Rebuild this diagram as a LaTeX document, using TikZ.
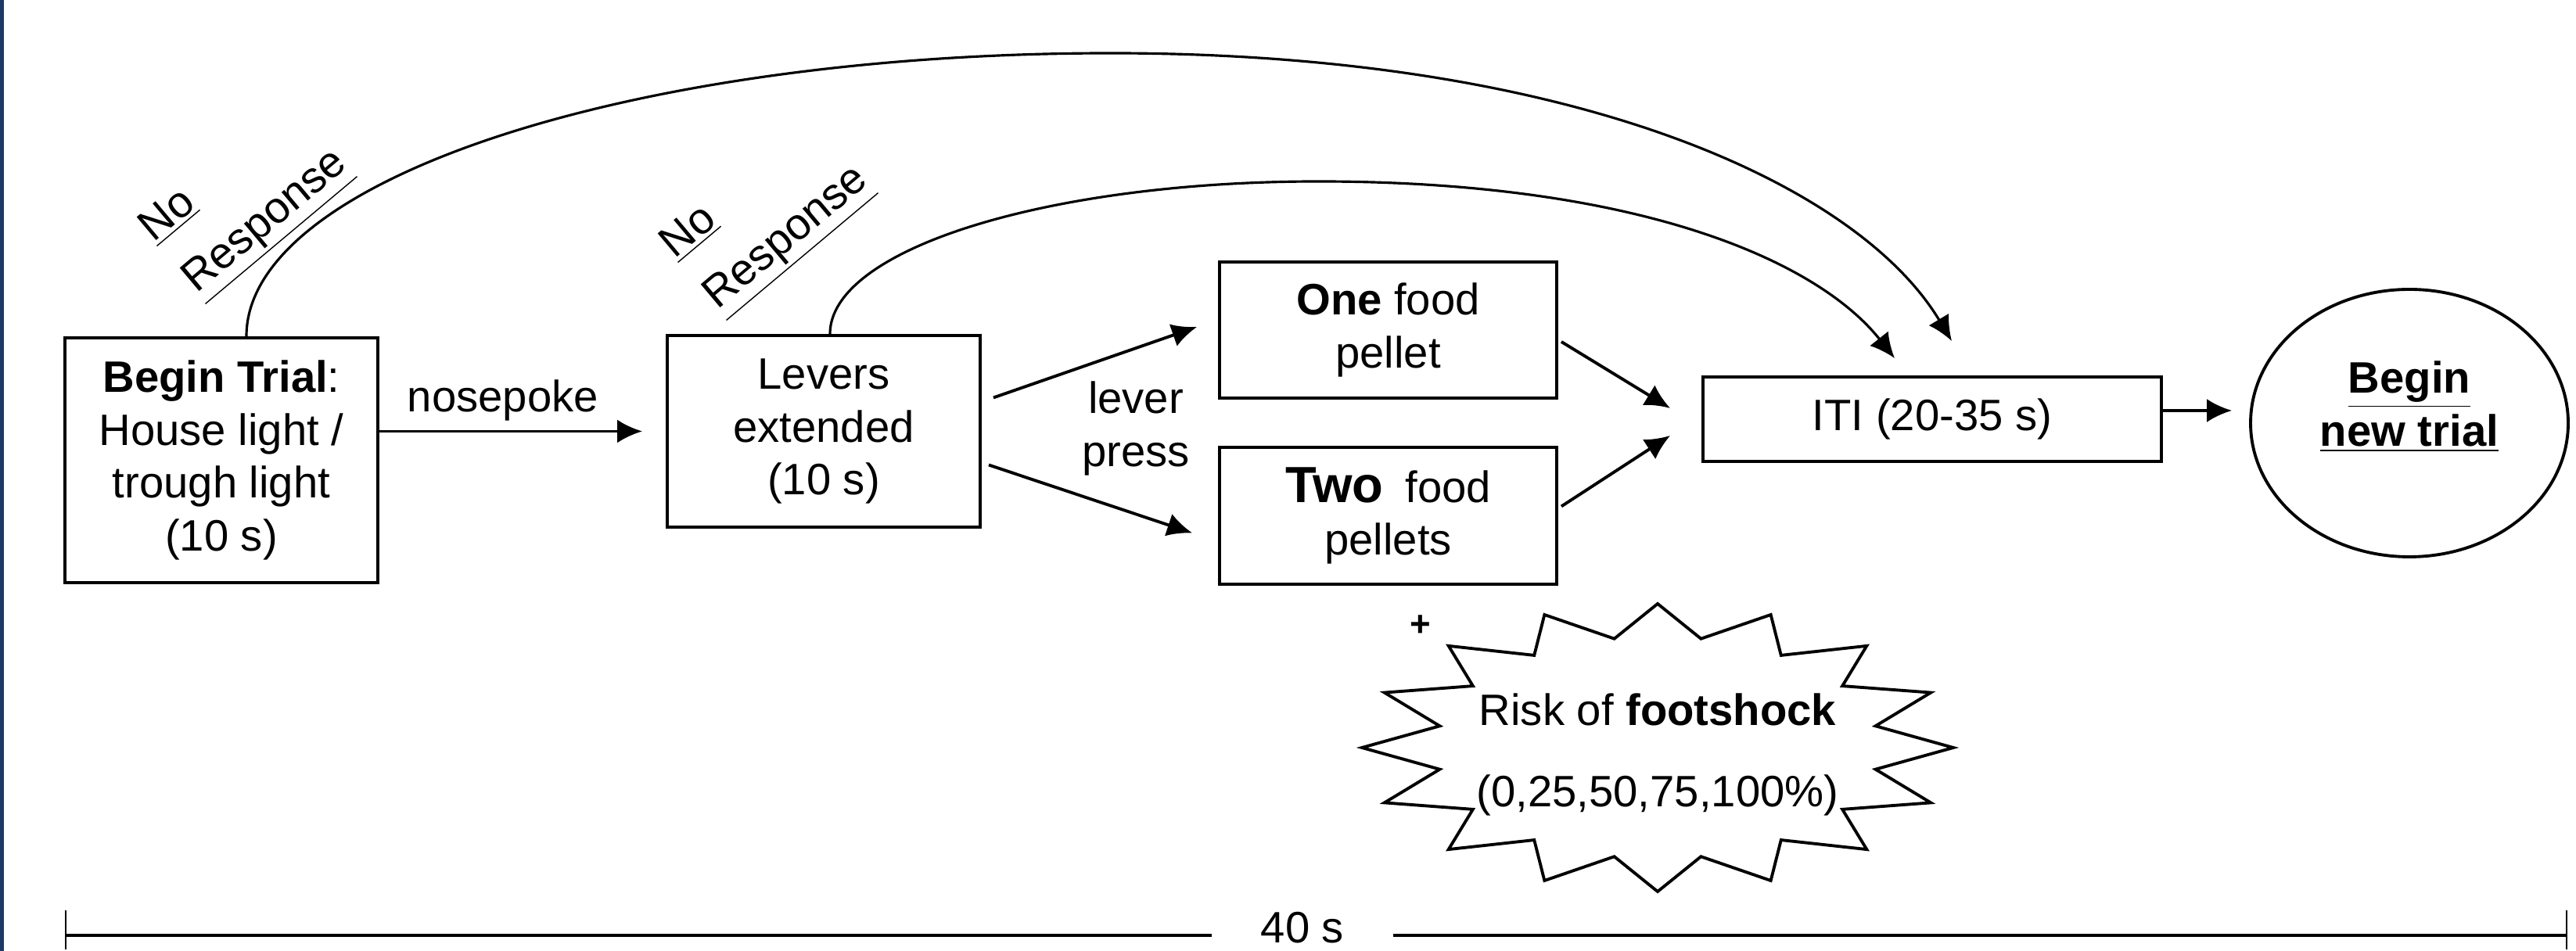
\documentclass[tikz,border=0pt]{standalone}
\usepackage{fontspec}
\setmainfont{Liberation Sans}
\usepackage{tikz}
\usetikzlibrary{
  arrows.meta,%
  calc,%
  shapes.geometric,%
  positioning
}
\definecolor{edgeblue}{RGB}{30,55,100}
\tikzset{>={Latex[length=3.2mm,width=3mm]}}
\tikzset{font=\fontsize{16}{19.3}\selectfont}
\tikzset{stagebox/.style={draw, line width=1.1pt, align=center, inner sep=2pt}}
\tikzset{flow/.style={->, line width=1.1pt}}
\tikzset{skip/.style={->, line width=0.9pt}}
\tikzset{noresp/.style={rotate=40, align=left, inner sep=0pt}}
\tikzset{timeline/.style={line width=1.2pt}}

\begin{document}
\begin{tikzpicture}
  \useasboundingbox (0,0) rectangle (32.93,12.16);
  \fill[edgeblue] (0,0) rectangle (0.05,12.16);
  % stages of a trial
  \node[stagebox, minimum width=4cm, minimum height=3.13cm] (begin) at (2.83,6.275)
    {\textbf{Begin Trial}:\\House light /\\trough light\\(10 s)};
  \node[stagebox, minimum width=4cm, minimum height=2.45cm] (levers) at (10.53,6.645)
    {Levers\\extended\\(10 s)};
  \node[stagebox, minimum width=4.31cm, minimum height=1.74cm] (one) at (17.745,7.94)
    {\textbf{One} food\\pellet};
  \node[stagebox, minimum width=4.31cm, minimum height=1.75cm] (two) at (17.745,5.565)
    {{\fontsize{18.5}{19.3}\selectfont\bfseries Two}\hspace{0.28cm}food\\pellets};
  \node[stagebox, minimum width=5.86cm, minimum height=1.08cm] (iti) at (24.70,6.80)
    {ITI (20-35 s)};
  \node[draw, ellipse, line width=1.1pt, minimum width=4.06cm, minimum height=3.42cm] (newtrial) at (30.80,6.75) {};
  \node[align=center, font=\fontsize{16}{19.3}\selectfont\bfseries] (newtext) at (30.80,6.96)
    {\underline{Begin}\\\underline{new trial}};

  % responses
  \draw[flow] (begin.east |- levers.west) -- node[above, pos=0.47] (nosepoke) {nosepoke} ([xshift=-3mm]levers.west);
  \draw[flow] ([xshift=1.5mm,yshift=4.3mm]levers.east) -- ([xshift=-2.7mm,yshift=0.4mm]one.west);
  \draw[flow] ([xshift=0.9mm,yshift=-4.3mm]levers.east) -- ([xshift=-3.3mm,yshift=-2.2mm]two.west);
  \node[align=center] (leverpress) at (14.52,6.68) {lever\\press};
  \draw[flow] ([xshift=0.4mm,yshift=-1.5mm]one.east) -- ([xshift=-4mm,yshift=1.4mm]iti.west);
  \draw[flow] ([xshift=0.4mm,yshift=1.2mm]two.east) -- ([xshift=-4mm,yshift=-2.1mm]iti.west);
  \draw[flow, shorten >=2.2mm] ([yshift=1.1mm]iti.east) -- ([yshift=1.1mm]iti.east -| newtrial.west);

  % omissions skip to the ITI
  \coordinate (top1) at (14.2,11.48);
  \coordinate (top2) at (16.85,9.84);
  \draw[skip] ([xshift=3.2mm]begin.north) .. controls +(0,2.01) and +(-6.1,0) .. (top1)
    .. controls +(5.93,0) and +(-1.2,2.0) .. ([xshift=2.5mm,yshift=4.4mm]iti.north);
  \draw[skip] ([xshift=0.8mm]levers.north) .. controls +(0,1.09) and +(-3.44,0) .. (top2)
    .. controls +(4.07,0) and +(-1.0,1.26) .. ([xshift=-4.8mm,yshift=2.2mm]iti.north);
  \node[noresp] (noresp1) at (3.15,9.62) {\underline{No}\\[5pt]\underline{Response}};
  \node[noresp] (noresp2) at (9.81,9.41) {\underline{No}\\[5pt]\underline{Response}};

  % footshock burst
  \coordinate (burst) at (21.19,2.60);
  \draw[line width=1.1pt, line join=miter] ($(burst)+(0:3.78 and 1.84)$)
    \foreach \a in {0,22.5,...,337.5} {
      -- ($(burst)+(\a+11.25:2.84 and 1.42)$) -- ($(burst)+(\a+22.5:3.78 and 1.84)$)
    } -- cycle;
  \node[align=center] (risk) at (21.19,2.51) {Risk of \textbf{footshock}\\[0.36cm](0,25,50,75,100\%)};
  \node[font=\fontsize{13}{13}\selectfont\bfseries] (plus) at (18.16,4.16) {+};

  % trial length
  \coordinate (tl) at (0.84,0.2);
  \coordinate (tr) at (32.81,0.2);
  \node[inner xsep=0.62cm, inner ysep=0pt, anchor=base] (span) at (16.65,0.1) {40 s};
  \draw[timeline] (tl) -- (tl -| span.west);
  \draw[timeline] (tr -| span.east) -- (tr);
  \foreach \p in {tl,tr}
    \draw[line width=0.6pt] ([yshift=-1.8mm]\p) -- ([yshift=3.2mm]\p);
\end{tikzpicture}
\end{document}
